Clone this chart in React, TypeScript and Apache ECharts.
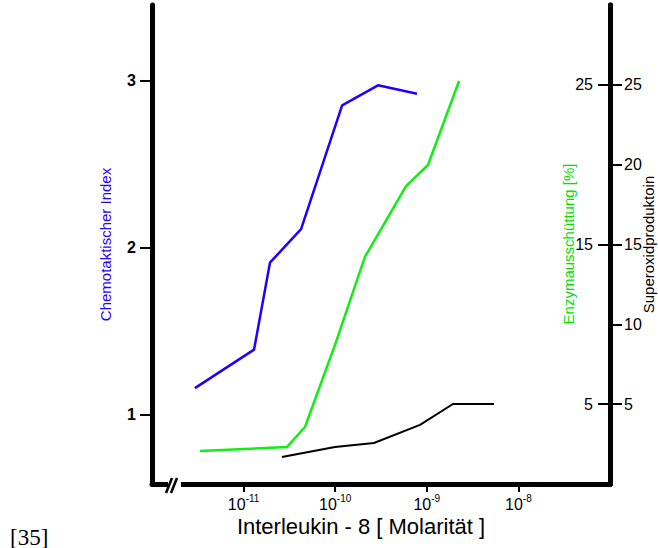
import React, { useEffect, useRef } from "react";
import * as echarts from "echarts";

// Interleukin-8 concentration (molar)
const xTickValues = [1e-11, 1e-10, 1e-9, 1e-8];

// Chemotaktischer Index (left axis)
const chemoX = [2.94e-12, 1.3e-11, 1.94e-11, 4.24e-11, 1.19e-10, 2.93e-10, 7.82e-10];
const chemoY = [1.16, 1.39, 1.91, 2.11, 2.85, 2.97, 2.92];

// Enzymausschüttung [%] (right inner axis)
const enzymX = [3.34e-12, 2.98e-11, 4.68e-11, 9.95e-11, 2.11e-10, 5.93e-10, 1.03e-9, 2.25e-9];
const enzymY = [2.07, 2.32, 3.57, 8.71, 14.22, 18.66, 19.98, 25.24];

// Superoxidproduktoin (right outer axis)
const superX = [2.62e-11, 9.95e-11, 2.65e-10, 8.43e-10, 1.93e-9, 5.42e-9];
const superY = [1.69, 2.32, 2.57, 3.7, 5.01, 5.01];

const leftTicks = [1, 2, 3];
const enzymTicks = [5, 15, 25];
const superTicks = [5, 10, 15, 20, 25];

const FONT = "Arial";

export default function App() {
  const ref = useRef<HTMLDivElement>(null);
  useEffect(() => {
    if (!ref.current) return;
    const chart = echarts.init(ref.current, null, { renderer: "svg" });
    const zip = (xs: number[], ys: number[]) => xs.map((x, i) => [x, ys[i]]);
    chart.setOption({
      animation: false,
      backgroundColor: "#ffffff",
      grid: { left: 152, right: 48, top: 5, bottom: 64, containLabel: false, outerBoundsMode: "none" },
      xAxis: {
        type: "log",
        logBase: 10,
        min: 1e-12,
        max: 1e-7,
        name: "Interleukin - 8 [ Molarität ]",
        nameLocation: "middle",
        nameGap: 31,
        nameMoveOverlap: false,
        nameTextStyle: { fontFamily: FONT, fontSize: 22, color: "#000", padding: [0, 40, 0, 0] },
        axisLine: { show: true, lineStyle: { color: "#000", width: 5 } },
        axisTick: { show: true, length: 8, lineStyle: { color: "#000", width: 2 }, customValues: xTickValues },
        axisLabel: {
          customValues: xTickValues,
          margin: 9,
          formatter: (v: number) => `{b|10}{s|${Math.round(Math.log10(v))}}`,
          rich: {
            b: { fontFamily: FONT, fontSize: 16, color: "#000", lineHeight: 19, verticalAlign: "bottom" },
            s: { fontFamily: FONT, fontSize: 10, color: "#000", verticalAlign: "top" },
          },
        },
        splitLine: { show: false },
      },
      yAxis: [
        {
          type: "value",
          position: "left",
          min: 0.587,
          max: 3.45,
          name: "Chemotaktischer Index",
          nameLocation: "middle",
          nameRotate: 90,
          nameGap: 39,
          nameMoveOverlap: false,
          nameTextStyle: { fontFamily: FONT, fontSize: 15, color: "#2a00ff" },
          axisLine: { show: true, lineStyle: { color: "#000", width: 5 } },
          axisTick: { show: true, length: 12, lineStyle: { color: "#000", width: 2 }, customValues: leftTicks },
          axisLabel: {
            customValues: leftTicks,
            margin: 16,
            fontFamily: FONT,
            fontSize: 16,
            fontWeight: "bold",
            color: "#000",
          },
          splitLine: { show: false },
        },
        {
          type: "value",
          position: "right",
          min: 0,
          max: 30,
          axisLine: { show: true, lineStyle: { color: "#000", width: 5 } },
          axisTick: { show: true, inside: true, length: 12, lineStyle: { color: "#000", width: 2 }, customValues: enzymTicks },
          axisLabel: {
            inside: true,
            customValues: enzymTicks,
            margin: 17,
            fontFamily: FONT,
            fontSize: 16,
            color: "#000",
          },
          splitLine: { show: false },
        },
        {
          type: "value",
          position: "right",
          min: 0,
          max: 30,
          name: "Superoxidproduktoin",
          nameLocation: "middle",
          nameRotate: 90,
          nameGap: 31,
          nameMoveOverlap: false,
          nameTextStyle: { fontFamily: FONT, fontSize: 15, color: "#000" },
          axisLine: { show: true, lineStyle: { color: "#000", width: 5 } },
          axisTick: { show: true, length: 12, lineStyle: { color: "#000", width: 2 }, customValues: superTicks },
          axisLabel: {
            customValues: superTicks,
            margin: 14,
            fontFamily: FONT,
            fontSize: 16,
            color: "#000",
          },
          splitLine: { show: false },
        },
      ],
      series: [
        {
          name: "Chemotaktischer Index",
          type: "line",
          yAxisIndex: 0,
          data: zip(chemoX, chemoY),
          showSymbol: false,
          lineStyle: { color: "#2200ff", width: 2.5 },
        },
        {
          name: "Enzymausschüttung [%]",
          type: "line",
          yAxisIndex: 1,
          data: zip(enzymX, enzymY),
          showSymbol: false,
          lineStyle: { color: "#11ee11", width: 2.5 },
        },
        {
          name: "Superoxidproduktoin",
          type: "line",
          yAxisIndex: 2,
          data: zip(superX, superY),
          showSymbol: false,
          lineStyle: { color: "#000", width: 2 },
        },
      ],
      graphic: [
        { type: "rect", z: 100, shape: { x: 168, y: 479, width: 13, height: 10 }, style: { fill: "#fff" } },
        { type: "line", z: 101, shape: { x1: 166, y1: 493, x2: 172, y2: 478 }, style: { stroke: "#000", lineWidth: 2.5 } },
        { type: "line", z: 101, shape: { x1: 171, y1: 493, x2: 177, y2: 478 }, style: { stroke: "#000", lineWidth: 2.5 } },
        {
          type: "text",
          z: 101,
          x: 568,
          y: 244,
          rotation: Math.PI / 2,
          style: { text: "Enzymausschüttung [%]", fontFamily: FONT, fontSize: 15, fill: "#00e000", align: "center", verticalAlign: "middle" },
        },
        {
          type: "text",
          z: 101,
          x: 10,
          y: 537,
          style: { text: "[35]", font: "23px serif", fill: "#000", verticalAlign: "middle", align: "left" },
        },
      ],
    });
    return () => chart.dispose();
  }, []);
  return <div ref={ref} style={{ position: "absolute", left: 0, top: 0, width: 658, height: 548 }} />;
}
